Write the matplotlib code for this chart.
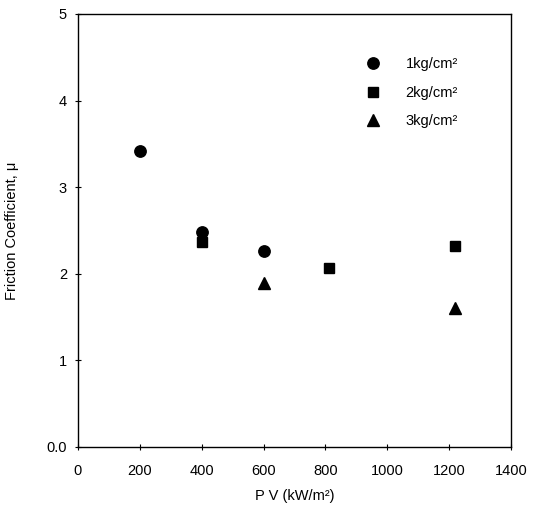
import matplotlib
matplotlib.use('Agg')
import matplotlib.pyplot as plt
from matplotlib.ticker import FuncFormatter

plt.rcParams['font.family'] = ['Liberation Sans', 'DejaVu Sans']

#-------------------------------------------- Data --------------------------------------------#
pv_1kg = [200, 400, 600]
mu_1kg = [3.42, 2.48, 2.26]

pv_2kg = [400, 810, 1220]
mu_2kg = [2.37, 2.07, 2.32]

pv_3kg = [600, 1220]
mu_3kg = [1.89, 1.60]

labels = ['1kg/cm²', '2kg/cm²', '3kg/cm²']
xticks = [0, 200, 400, 600, 800, 1000, 1200, 1400]
yticks = [0, 1, 2, 3, 4, 5]

#-------------------------------------------- Plotting --------------------------------------------#
fig = plt.figure(figsize=(5.44, 5.15), dpi=100)
ax = fig.add_axes([78 / 544, (515 - 447) / 515, 433 / 544, 433 / 515])

ax.plot(pv_1kg, mu_1kg, 'o', color='black', markersize=8.2, label=labels[0])
ax.plot(pv_2kg, mu_2kg, 's', color='black', markersize=7.2, label=labels[1])
ax.plot(pv_3kg, mu_3kg, '^', color='black', markersize=8, label=labels[2])

ax.set_xlim(0, 1400)
ax.set_ylim(0, 5)
ax.set_xticks(xticks)
ax.set_yticks(yticks)
ax.yaxis.set_major_formatter(FuncFormatter(lambda v, p: '0.0' if v == 0 else '%d' % v))
ax.tick_params(direction='inout', length=4, width=0.8, labelsize=10.5, pad=6)
ax.tick_params(axis='x', pad=10)

for s in ax.spines.values():
    s.set_linewidth(1.0)

ax.set_xlabel('P V (kW/m²)', fontsize=10.5, labelpad=8)
ax.set_ylabel('Friction Coefficient, μ', fontsize=10.5, labelpad=20)

ax.legend(loc='upper left', bbox_to_anchor=(0.645, 0.917), frameon=False,
          fontsize=10.5, handlelength=1.2, handletextpad=1.6, labelspacing=1.0,
          borderpad=0)

fig.savefig('out.png', dpi=100)
